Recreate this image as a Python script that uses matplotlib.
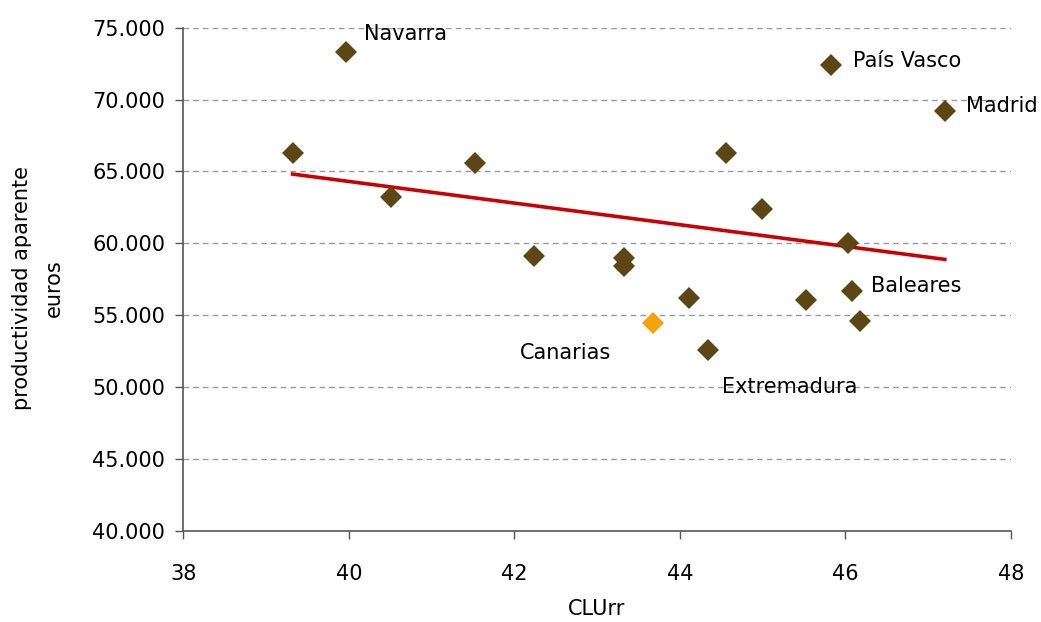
import numpy as np
import matplotlib
matplotlib.use("Agg")
import matplotlib.pyplot as plt
from matplotlib.ticker import FuncFormatter

# CLUrr vs productividad aparente (euros) por comunidad autonoma
regions = ['', 'Navarra', '', '', '', '', '', 'Canarias', '', 'Extremadura',
           '', '', '', 'País Vasco', '', 'Baleares', '', 'Madrid']
clurr = [39.32, 39.97, 40.51, 41.52, 42.24, 43.32, 43.32, 43.68, 44.11, 44.34,
         44.56, 44.99, 45.52, 45.83, 46.03, 46.08, 46.18, 47.20]
productividad = [66300, 73330, 63240, 65570, 59120, 58950, 58440, 54450, 56210, 52575,
                 66280, 62370, 56050, 72430, 60000, 56660, 54590, 69190]
highlight = 'Canarias'

x_ticks = [38, 40, 42, 44, 46, 48]
y_ticks = [40000, 45000, 50000, 55000, 60000, 65000, 70000, 75000]

# label offsets in pixels (dx, dy, ha)
label_pos = {
    'Navarra': (18, 18, 'left'),
    'País Vasco': (22, 4, 'left'),
    'Madrid': (21, 5, 'left'),
    'Baleares': (19, 5, 'left'),
    'Extremadura': (14, -37, 'left'),
    'Canarias': (-42, -30, 'right'),
}

brown = '#5c4616'
orange = '#f5a30a'
fs = 15

fig = plt.figure(figsize=(10.41, 6.22), dpi=100)
ax = fig.add_axes([0.1761, 0.1468, 0.9712 - 0.1761, 0.9553 - 0.1468])

x = np.array(clurr)
y = np.array(productividad)
colors = [orange if r == highlight else brown for r in regions]

# trend line (least squares)
slope, icpt = np.polyfit(x, y, 1)
xt = np.array([x.min(), x.max()])
ax.plot(xt, slope * xt + icpt, color='#cc0000', lw=2.6, zorder=2)

for xi, yi, c in zip(x, y, colors):
    ax.plot(xi, yi, marker='D', ms=11.5, color=c, mew=0, ls='none', zorder=3)

for xi, yi, r in zip(x, y, regions):
    if r:
        dx, dy, ha = label_pos[r]
        ax.annotate(r, (xi, yi), xytext=(dx, dy), textcoords='offset pixels',
                    ha=ha, va='center', fontsize=fs, color='black')

ax.set_xlim(38, 48)
ax.set_ylim(40000, 75000)
ax.set_xticks(x_ticks)
ax.set_yticks(y_ticks)
ax.yaxis.set_major_formatter(FuncFormatter(lambda v, p: f'{int(v):,}'.replace(',', '.')))

for v in y_ticks[1:]:
    ax.axhline(v, color='#999999', lw=1, ls=(0, (4, 3)), zorder=1)

for s in ['top', 'right']:
    ax.spines[s].set_visible(False)
for s in ['left', 'bottom']:
    ax.spines[s].set_color('#555555')
    ax.spines[s].set_linewidth(1.2)

ax.tick_params(axis='both', direction='out', length=6, width=1, color='#555555',
               labelsize=fs)
ax.tick_params(axis='x', pad=18)
ax.tick_params(axis='y', pad=7)

fig.text(38 / 1041, 1 - 288 / 622, 'productividad aparente\neuros', rotation=90,
         ha='center', va='center', multialignment='center', fontsize=fs,
         linespacing=1.75)
fig.text(597 / 1041, 1 - 609 / 622, 'CLUrr', ha='center', va='center', fontsize=fs)

fig.savefig('out.png', dpi=100)
